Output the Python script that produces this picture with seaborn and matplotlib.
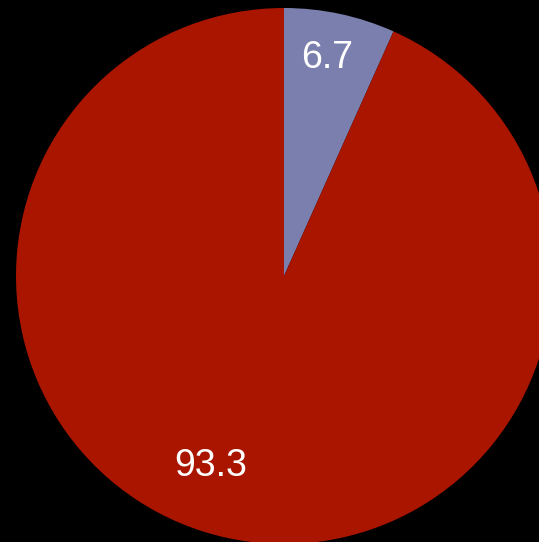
import numpy as np
import matplotlib
matplotlib.use("Agg")
import matplotlib.pyplot as plt
import seaborn as sns

categories = ["A", "B"]
values = [6.7, 93.3]
labels = ["6.7", "93.3"]
colors = ["#7b7fad", "#aa1500"]
label_dist = [0.83, 0.76]
label_angle_offset = [1.0, -9.0]

sns.set_theme(style="white")
plt.rcParams['font.family'] = ['Liberation Sans', 'DejaVu Sans']

fig = plt.figure(figsize=(5.39, 5.42), dpi=100, facecolor="black")
ax = fig.add_axes([16/539, -2/542, 536/539, 536/542])
ax.set_facecolor("black")

wedges, _ = ax.pie(values, colors=sns.color_palette(colors), startangle=90,
                   counterclock=False, radius=1.0,
                   wedgeprops=dict(edgecolor="none", linewidth=0))

for w, lab, d, off in zip(wedges, labels, label_dist, label_angle_offset):
    ang = np.deg2rad((w.theta1 + w.theta2) / 2 + off)
    ax.text(d * np.cos(ang), d * np.sin(ang), lab, color="white",
            fontsize=27, ha="center", va="center")

ax.set_xlim(-1, 1)
ax.set_ylim(-1, 1)
ax.set_aspect("equal")
ax.axis("off")
fig.savefig("out.png", dpi=100, facecolor="black")
